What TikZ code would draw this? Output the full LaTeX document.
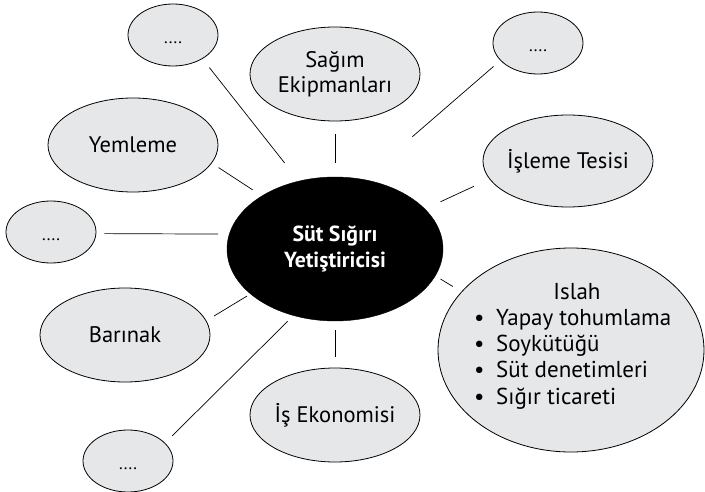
\documentclass[tikz,border=0pt]{standalone}
\usepackage{fontspec}
\setmainfont{PT Sans}
\usetikzlibrary{shapes.geometric}
\definecolor{bubblefill}{HTML}{E6E7E8}
\begin{document}
\begin{tikzpicture}[x=1pt,y=-1pt,
  bubble/.style={ellipse, draw=black, line width=0.8pt, fill=bubblefill, inner sep=0pt},
  smallbub/.style={bubble, minimum width=90pt, minimum height=62pt},
  medbub/.style={bubble, minimum width=170pt, minimum height=94pt},
  txt/.style={font=\fontsize{22.5}{25}\selectfont, text=black, align=center, inner sep=0pt},
  dots/.style={font=\fontsize{17}{20}\selectfont, text=black, inner sep=0pt, yshift=-8pt},
  link/.style={draw=black, line width=0.7pt}]
\useasboundingbox (0,0) rectangle (705,492);
% bubbles
\node[smallbub] (tl) at (173,35) {};
\node[medbub] (sag) at (335,74) {};
\node[smallbub] (tr) at (538,43) {};
\node[medbub] (yem) at (133,145) {};
\node[medbub, minimum height=92pt] (isl) at (568,161) {};
\node[smallbub] (lft) at (51,232) {};
\node[ellipse, draw=black, fill=black, inner sep=0pt, minimum width=216pt, minimum height=144pt] (hub) at (335,249) {};
\node[bubble, minimum width=266pt, minimum height=204pt] (islah) at (571,350) {};
\node[medbub] (bar) at (125,335) {};
\node[smallbub] (bl) at (128,461) {};
\node[medbub] (eko) at (335,415) {};
% texts
\node[dots] (tl-t) at (tl) {....};
\node[dots] (tr-t) at (tr) {....};
\node[dots] (lft-t) at (lft) {....};
\node[dots] (bl-t) at (bl) {....};
\node[txt] (sag-t) at (sag) {Sağım\\Ekipmanları};
\node[txt] (yem-t) at (yem) {Yemleme};
\node[txt] (isl-t) at (isl) {İşleme Tesisi};
\node[txt] (bar-t) at (bar) {Barınak};
\node[txt] (eko-t) at (eko) {İş Ekonomisi};
\node[txt, text=white, font=\fontsize{21.8}{26}\selectfont\bfseries] (hub-t) at (hub) {Süt Sığırı\\Yetiştiricisi};
\node[txt, font=\fontsize{23}{26}\selectfont] (islah-t) at (577,292) {Islah};
\node[txt, align=left, font=\fontsize{23}{26.3}\selectfont, anchor=west] (islah-l) at (474,359)
  {\makebox[22pt][l]{•}Yapay tohumlama\\\makebox[22pt][l]{•}Soykütüğü\\\makebox[22pt][l]{•}Süt denetimleri\\\makebox[22pt][l]{•}Sığır ticareti};
% connectors
\draw[link, shorten <=11pt, shorten >=23pt] (tl.-39) -- (hub.118);
\draw[link, shorten <=13pt, shorten >=14pt] (sag.south) -- (hub.north);
\draw[link, shorten <=9pt, shorten >=65pt] (tr.-155) -- (hub.68);
\draw[link, shorten <=8pt, shorten >=11pt] (yem.-13.5) -- (hub.144);
\draw[link, shorten <=17pt, shorten >=17pt] (isl.-167) -- (hub.24);
\draw[link, shorten <=8pt, shorten >=11pt] (lft.-2.5) -- (hub.172);
\draw[link, shorten <=10pt, shorten >=6pt] (islah.152) -- (hub.-15);
\draw[link, shorten <=9pt, shorten >=4pt] (bar.10) -- (hub.208);
\draw[link, shorten <=10pt, shorten >=8pt] (bl.26) -- (hub.-122.5);
\draw[link, shorten <=11pt, shorten >=9pt] (eko.north) -- (hub.south);
\end{tikzpicture}
\end{document}
